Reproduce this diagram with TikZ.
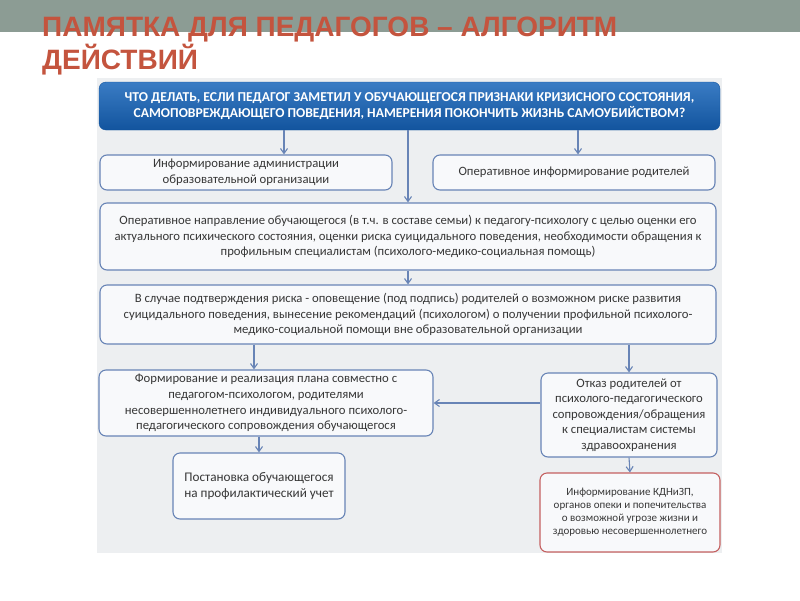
\documentclass[tikz,border=0pt]{standalone}
\usepackage{fontspec}
\setmainfont{Carlito}
\newfontfamily\titlefont{Liberation Sans}
\usepackage{xcolor}
\usepackage{tikz}
\usetikzlibrary{positioning,arrows.meta,calc}
\definecolor{bandgray}{RGB}{140,156,148}
\definecolor{titlered}{RGB}{196,84,62}
\definecolor{panelgray}{RGB}{237,239,241}
\definecolor{boxline}{RGB}{104,132,182}
\definecolor{boxfill}{RGB}{248,249,251}
\definecolor{headtop}{RGB}{58,124,196}
\definecolor{headbot}{RGB}{18,84,158}
\definecolor{textgray}{RGB}{55,55,55}
\definecolor{alertred}{RGB}{196,96,96}
\tikzset{
  box/.style={rounded corners=7pt, draw=boxline, line width=1.1pt, fill=boxfill, align=center, inner sep=3pt,
    text=textgray, font=\fontsize{12.7}{15.6}\selectfont},
  alertbox/.style={box, draw=alertred, font=\fontsize{11}{13}\selectfont},
  headbox/.style={rounded corners=7pt, top color=headtop, bottom color=headbot, draw=headbot, align=center,
    text=white, font=\fontsize{13.6}{16}\selectfont\bfseries},
  arr/.style={-{Straight Barb[length=5pt,width=7pt]}, line width=1.1pt, draw=boxline},
}

\begin{document}
\begin{tikzpicture}[x=1pt,y=-1pt]
  \useasboundingbox (0,0) rectangle (800,600);
  \fill[white] (0,0) rectangle (800,600);
  \fill[bandgray] (0,0) rectangle (800,32);
  \fill[panelgray] (97,78) rectangle (722,553);
  % title
  \node[anchor=base west, inner sep=0pt, text=titlered, font=\titlefont\fontsize{28}{33}\selectfont\bfseries] (title1) at (42,36) {ПАМЯТКА ДЛЯ ПЕДАГОГОВ – АЛГОРИТМ};
  \node[anchor=base west, inner sep=0pt, text=titlered, font=\titlefont\fontsize{28}{33}\selectfont\bfseries] (title2) at (42,69) {ДЕЙСТВИЙ};
  % header question
  \node[headbox, minimum width=621pt, minimum height=48pt] (head) at (409.5,106)
    {ЧТО ДЕЛАТЬ, ЕСЛИ ПЕДАГОГ ЗАМЕТИЛ У ОБУЧАЮЩЕГОСЯ ПРИЗНАКИ КРИЗИСНОГО СОСТОЯНИЯ,\\
     САМОПОВРЕЖДАЮЩЕГО ПОВЕДЕНИЯ, НАМЕРЕНИЯ ПОКОНЧИТЬ ЖИЗНЬ САМОУБИЙСТВОМ?};
  % first row
  \node[box, minimum width=292pt, minimum height=35pt] (admin) at (246,172.5)
    {Информирование администрации\\ образовательной организации};
  \node[box, minimum width=282pt, minimum height=35pt] (parents) at (574,172.5)
    {Оперативное информирование родителей};
  % main column
  \node[box, minimum width=616pt, minimum height=67pt] (psych) at (408,236.5)
    {Оперативное направление обучающегося (в т.ч. в составе семьи) к педагогу-психологу с целью оценки его\\
     актуального психического состояния, оценки риска суицидального поведения, необходимости обращения к\\
     профильным специалистам (психолого-медико-социальная помощь)};
  \node[box, minimum width=616pt, minimum height=59pt] (risk) at (408,314.5)
    {В случае подтверждения риска - оповещение (под подпись) родителей о возможном риске развития\\
     суицидального поведения, вынесение рекомендаций (психологом) о получении профильной психолого-\\
     медико-социальной помощи вне образовательной организации};
  % lower part
  \node[box, minimum width=334pt, minimum height=66pt] (plan) at (266,403)
    {Формирование и реализация плана совместно с\\ педагогом-психологом, родителями\\
     несовершеннолетнего индивидуального психолого-\\ педагогического сопровождения обучающегося};
  \node[box, minimum width=176pt, minimum height=84pt] (refuse) at (629,415)
    {Отказ родителей от\\ психолого-педагогического\\ сопровождения/обращения\\
     к специалистам системы\\ здравоохранения};
  \node[box, minimum width=172pt, minimum height=66pt, font=\fontsize{13.2}{16}\selectfont] (record) at (259,486)
    {Постановка обучающегося\\ на профилактический учет};
  \node[alertbox, minimum width=180pt, minimum height=79pt] (inform) at (630,512.5)
    {Информирование КДНиЗП,\\ органов опеки и попечительства\\ о возможной угрозе жизни и\\
     здоровью несовершеннолетнего};
  % connectors
  \draw[arr] ([xshift=38pt]admin.north |- head.south) -- ([xshift=38pt]admin.north);
  \draw[arr] ([xshift=4pt]parents.north |- head.south) -- ([xshift=4pt]parents.north);
  \draw[arr] (head.south -| psych.north) -- (psych.north);
  \draw[arr] (psych.south) -- (risk.north);
  \draw[arr] ([xshift=-12pt]plan.north |- risk.south) -- ([xshift=-12pt]plan.north);
  \draw[arr] (risk.south -| refuse.north) -- (refuse.north);
  \draw[arr] (refuse.west |- plan.east) -- (plan.east);
  \draw[arr] (plan.south -| record.north) -- (record.north);
  \draw[arr] (refuse.south) -- (inform.north);
\end{tikzpicture}
\end{document}
